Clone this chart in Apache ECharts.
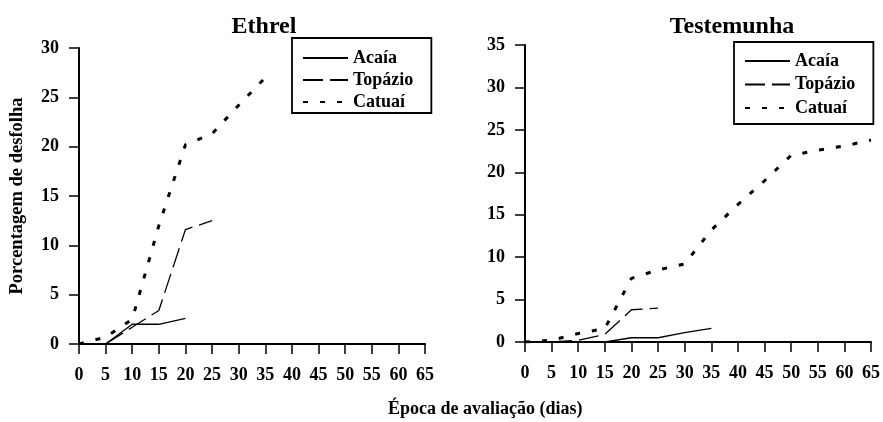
<!DOCTYPE html>
<html>
<head>
<meta charset="utf-8">
<script src="https://cdn.jsdelivr.net/npm/echarts@6/dist/echarts.min.js"></script>
<style>
  html, body { margin: 0; padding: 0; background: #fff; }
  #chart { width: 883px; height: 422px; }
</style>
</head>
<body>
<div id="chart"></div>
<script>
// dias de avaliação (eixo x)
var dias = [0, 5, 10, 15, 20, 25, 30, 35, 40, 45, 50, 55, 60, 65];
var nomes = ['Acaía', 'Topázio', 'Catuaí'];

// Ethrel
var ethrelAcaia = [0, 0, 2.0, 2.0, 2.6];
var ethrelTopazio = [0, 0, 1.7, 3.4, 11.6, 12.5];
var ethrelCatuai = [0, 0.7, 2.5, 12, 20.2, 21.3, 24.2, 27];

// Testemunha
var testAcaia = [0, 0, 0, 0, 0.5, 0.5, 1.1, 1.6];
var testTopazio = [0, 0, 0.2, 0.9, 3.8, 4.0];
var testCatuai = [0, 0.2, 1.0, 1.6, 7.5, 8.5, 9.2, 13.2, 16.2, 19.0, 22.0, 22.6, 23.1, 23.8];

var fonte = 'Liberation Serif';

function pares(vals) {
  return vals.map(function (v, i) { return [dias[i], v]; });
}

function eixoX(idx) {
  return {
    type: 'value', gridIndex: idx, min: 0, max: 65, interval: 5,
    axisLine: { lineStyle: { color: '#000', width: 2 } },
    axisTick: { show: true, inside: false, length: 10, lineStyle: { color: '#000', width: 1.5 } },
    axisLabel: { margin: 22, color: '#000', fontFamily: fonte, fontWeight: 'bold', fontSize: 18 },
    splitLine: { show: false }
  };
}

function eixoY(idx, max) {
  return {
    type: 'value', gridIndex: idx, min: 0, max: max, interval: 5,
    axisLine: { show: true, lineStyle: { color: '#000', width: 2 } },
    axisTick: { show: true, inside: false, length: 10, lineStyle: { color: '#000', width: 1.5 } },
    axisLabel: { margin: 20, color: '#000', fontFamily: fonte, fontWeight: 'bold', fontSize: 18 },
    splitLine: { show: false }
  };
}

function serie(nome, vals, idx, estilo) {
  return {
    name: nome, type: 'line', xAxisIndex: idx, yAxisIndex: idx,
    data: pares(vals), symbol: 'none', smooth: false,
    itemStyle: { color: '#000' },
    lineStyle: estilo
  };
}

var estiloAcaia = { color: '#000', width: 1.3, type: 'solid' };
var estiloTopazio = { color: '#000', width: 1.3, type: [20, 7] };
var estiloCatuai = { color: '#000', width: 3, type: [5, 12], cap: 'butt' };

var legenda = {
  orient: 'vertical', data: nomes,
  itemWidth: 45, itemHeight: 14,
  borderColor: '#000', borderWidth: 1.8,
  itemStyle: { opacity: 0 },
  textStyle: { fontFamily: fonte, fontWeight: 'bold', fontSize: 18, color: '#000' }
};

var chart = echarts.init(document.getElementById('chart'));
chart.setOption({
  backgroundColor: '#fff',
  animation: false,
  title: [
    { text: 'Ethrel', left: 259, top: 10, textAlign: 'center',
      textStyle: { fontFamily: fonte, fontWeight: 'bold', fontSize: 24, color: '#000' } },
    { text: 'Testemunha', left: 727, top: 10, textAlign: 'center',
      textStyle: { fontFamily: fonte, fontWeight: 'bold', fontSize: 24, color: '#000' } }
  ],
  graphic: [{
    type: 'text', left: 388, top: 400,
    style: { text: 'Época de avaliação (dias)', font: 'bold 18px "Liberation Serif"', fill: '#000' }
  }],
  legend: [
    Object.assign({}, legenda, { left: 292, top: 38, itemGap: 4, padding: [11, 18, 2, 10] }),
    Object.assign({}, legenda, { left: 734, top: 42, itemGap: 5.5, padding: [10, 18, 7, 10] })
  ],
  grid: [
    { left: 79, top: 48, width: 346, height: 296 },
    { left: 525, top: 45, width: 347, height: 297 }
  ],
  xAxis: [eixoX(0), eixoX(1)],
  yAxis: [
    Object.assign(eixoY(0, 30), {
      name: 'Porcentagem de desfolha', nameLocation: 'middle', nameGap: 52, nameRotate: 90,
      nameTextStyle: { fontFamily: fonte, fontWeight: 'bold', fontSize: 18.5, color: '#000' }
    }),
    eixoY(1, 35)
  ],
  series: [
    serie('Acaía', ethrelAcaia, 0, estiloAcaia),
    serie('Topázio', ethrelTopazio, 0, estiloTopazio),
    serie('Catuaí', ethrelCatuai, 0, estiloCatuai),
    serie('Acaía', testAcaia, 1, estiloAcaia),
    serie('Topázio', testTopazio, 1, estiloTopazio),
    serie('Catuaí', testCatuai, 1, estiloCatuai)
  ]
});
</script>
</body>
</html>
